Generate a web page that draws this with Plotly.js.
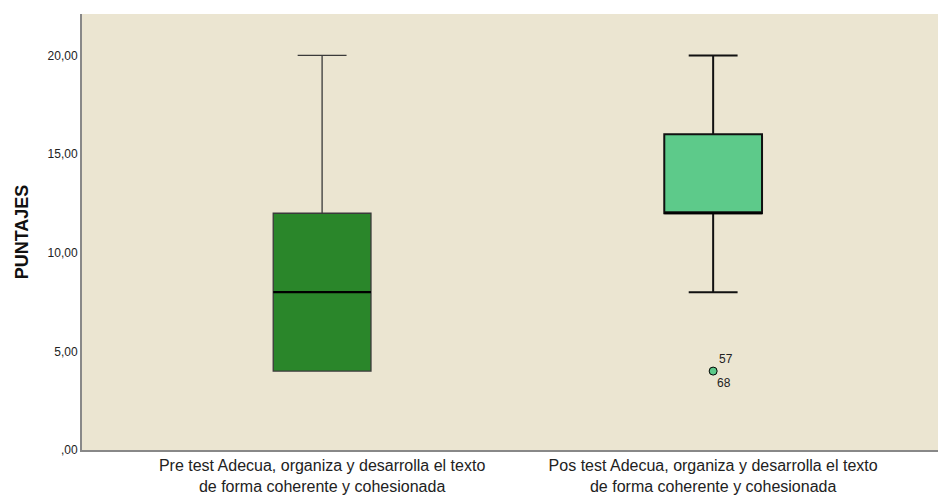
<!DOCTYPE html>
<html><head><meta charset="utf-8">
<script src="https://cdn.plot.ly/plotly-3.0.1.min.js"></script>
<style>html,body{margin:0;padding:0;background:#fff}#chart{width:938px;height:495px}</style>
</head><body><div id="chart"></div>
<script>
const categories = [
  "Pre test Adecua, organiza y desarrolla el texto<br>de forma coherente y cohesionada",
  "Pos test Adecua, organiza y desarrolla el texto<br>de forma coherente y cohesionada"
];
const lowerWhisker = [4, 8];
const q1Values = [4, 12];
const medianValues = [8, 12];
const q3Values = [12, 16];
const upperWhisker = [20, 20];
const outlierValues = [4];
const outlierLabelsAbove = ["57"];
const outlierLabelsBelow = ["68"];
const yTickVals = [0, 5, 10, 15, 20];
const yTickText = [",00", "5,00", "10,00", "15,00", "20,00"];

const fills = ["#2a862a", "#5dca8a"];
const lineStyles = [{color: "#3a3a3a", width: 1.3}, {color: "#111111", width: 2}];
const boxWidth = 0.25;

const traces = categories.map((c, i) => ({
  type: "box",
  x: [c],
  lowerfence: [lowerWhisker[i]],
  q1: [q1Values[i]],
  median: [medianValues[i]],
  q3: [q3Values[i]],
  upperfence: [upperWhisker[i]],
  fillcolor: fills[i],
  line: lineStyles[i],
  width: boxWidth,
  whiskerwidth: 0.5,
  boxpoints: false,
  hoverinfo: "skip",
  showlegend: false
}));

traces.push({
  type: "scatter",
  mode: "markers",
  x: outlierValues.map(() => categories[1]),
  y: outlierValues,
  marker: {size: 8, color: "#5dca8a", line: {color: "#000", width: 1}},
  showlegend: false,
  hoverinfo: "skip"
});

// thick black median line for every box (derived from the data)
const shapes = medianValues.map((m, i) => ({
  type: "line", xref: "x", yref: "y",
  x0: i - boxWidth / 2, x1: i + boxWidth / 2, y0: m, y1: m,
  line: {color: "#000", width: 2.2}
}));

const annotations = [];
outlierValues.forEach((v, k) => {
  annotations.push({x: categories[1], y: v, xref: "x", yref: "y", text: outlierLabelsAbove[k],
    showarrow: false, xanchor: "left", yanchor: "middle", xshift: 4, yshift: 12,
    font: {family: "Arial, Liberation Sans, sans-serif", size: 12, color: "#222"}});
  annotations.push({x: categories[1], y: v, xref: "x", yref: "y", text: outlierLabelsBelow[k],
    showarrow: false, xanchor: "left", yanchor: "middle", xshift: 2, yshift: -12,
    font: {family: "Arial, Liberation Sans, sans-serif", size: 12, color: "#222"}});
});

const layout = {
  width: 938, height: 495,
  margin: {l: 82, r: 0, t: 14, b: 45},
  paper_bgcolor: "#ffffff",
  plot_bgcolor: "#ebe5d1",
  font: {family: "Arial, Liberation Sans, sans-serif", color: "#222"},
  xaxis: {
    type: "category",
    range: [-0.614, 1.575],
    showgrid: false, zeroline: false,
    showline: true, linecolor: "#888", linewidth: 2,
    ticks: "", tickfont: {size: 16, color: "#222"},
    ticklabelstandoff: 0,
    fixedrange: true
  },
  yaxis: {
    range: [0, 22.1],
    tickvals: yTickVals, ticktext: yTickText,
    showgrid: false, zeroline: false,
    showline: true, linecolor: "#888", linewidth: 2,
    ticks: "", tickfont: {size: 12, color: "#222"},
    title: {text: "<b>PUNTAJES</b>", font: {size: 18, color: "#111"}, standoff: 14},
    fixedrange: true
  },
  shapes: shapes,
  annotations: annotations
};

Plotly.newPlot("chart", traces, layout, {displayModeBar: false, staticPlot: true});
</script></body></html>
